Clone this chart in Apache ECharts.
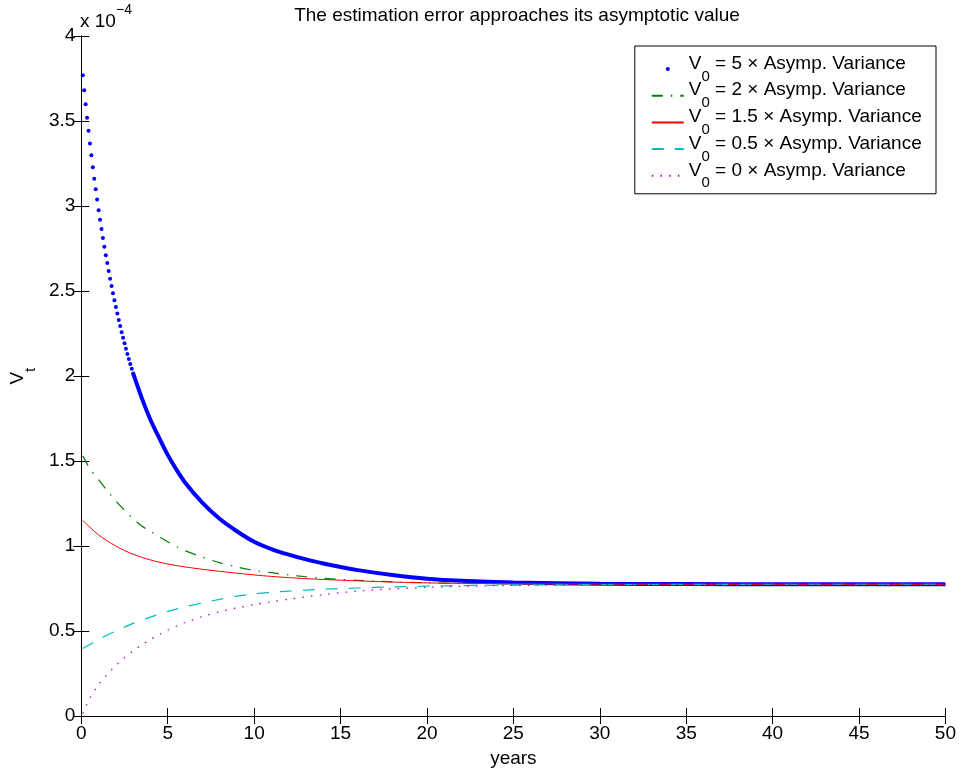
<!DOCTYPE html>
<html>
<head>
<meta charset="utf-8">
<script src="https://cdn.jsdelivr.net/npm/echarts@6/dist/echarts.min.js"></script>
<style>
  html, body { margin: 0; padding: 0; background: #fff; }
  #chart { width: 959px; height: 773px; }
</style>
</head>
<body>
<div id="chart"></div>
<script>
const FONT = '"Liberation Sans", Arial, Helvetica, sans-serif';
const FS = 19;

// Variance of the estimation error V_t, in units of 1e-4, against time in years.
const years = [0.083, 0.5, 1, 1.5, 2, 2.5, 3, 3.5, 4, 4.5, 5, 5.5, 6, 7, 8, 9, 10, 11, 12, 13, 14,
               16, 18, 20, 22, 25, 30, 35, 40, 45, 50];

// V_0 = 5 x asymptotic variance: one value per month over the first three years
const v5Monthly = [3.769, 3.681, 3.599, 3.519, 3.442, 3.368, 3.298, 3.228, 3.161, 3.099, 3.038, 2.975,
                   2.919, 2.864, 2.812, 2.761, 2.711, 2.664, 2.617, 2.572, 2.529, 2.487, 2.446, 2.406,
                   2.367, 2.329, 2.294, 2.258, 2.225, 2.192, 2.161, 2.130, 2.100, 2.071, 2.042, 2.015];
// ... and from year 3 onwards (years[6..])
const v5Later = [2.015, 1.87, 1.743, 1.637, 1.536, 1.45, 1.374, 1.255, 1.16, 1.087, 1.025, 0.982, 0.949,
                 0.921, 0.897, 0.858, 0.83, 0.808, 0.795, 0.785, 0.778, 0.776, 0.775, 0.775, 0.775];

const v2  = [1.53, 1.455, 1.39, 1.325, 1.265, 1.21, 1.16, 1.118, 1.085, 1.055, 1.025, 0.997, 0.972,
             0.935, 0.902, 0.877, 0.857, 0.843, 0.83, 0.819, 0.81, 0.798, 0.789, 0.783, 0.78, 0.777,
             0.775, 0.775, 0.775, 0.775, 0.775];
const v15 = [1.15, 1.11, 1.065, 1.03, 1.0, 0.973, 0.952, 0.933, 0.918, 0.905, 0.894, 0.885, 0.877,
             0.863, 0.851, 0.84, 0.83, 0.821, 0.814, 0.808, 0.803, 0.795, 0.788, 0.783, 0.78, 0.778,
             0.776, 0.775, 0.775, 0.775, 0.775];
const v05 = [0.397, 0.42, 0.449, 0.476, 0.5, 0.523, 0.545, 0.564, 0.582, 0.599, 0.615, 0.629, 0.642,
             0.665, 0.686, 0.705, 0.718, 0.727, 0.735, 0.741, 0.746, 0.753, 0.759, 0.764, 0.767, 0.77,
             0.773, 0.774, 0.775, 0.775, 0.775];
const v0  = [0.015, 0.105, 0.185, 0.245, 0.297, 0.343, 0.383, 0.418, 0.45, 0.478, 0.505, 0.528, 0.55,
             0.585, 0.613, 0.636, 0.655, 0.672, 0.687, 0.701, 0.714, 0.735, 0.748, 0.757, 0.763, 0.768,
             0.772, 0.774, 0.775, 0.775, 0.775];

const seriesNames = [
  'V_0 = 5 × Asymp. Variance',
  'V_0 = 2 × Asymp. Variance',
  'V_0 = 1.5 × Asymp. Variance',
  'V_0 = 0.5 × Asymp. Variance',
  'V_0 = 0 × Asymp. Variance'
];
const xTicks = { min: 0, max: 50, step: 5 };
const yTicks = { min: 0, max: 4, step: 0.5 };

const pairs = (xs, ys) => ys.map((y, i) => [xs[i], y]);
const monthlyPoints = v5Monthly.map((y, i) => [(i + 1) / 12, y]);
const laterPoints = pairs(years.slice(6), v5Later);

// main glyphs sit at the top of each text line, the subscript at its bottom
const subRich = {
  v: { fontFamily: FONT, fontSize: FS, lineHeight: 21, verticalAlign: 'top', color: '#000' },
  s: { fontFamily: FONT, fontSize: 15, lineHeight: 15, verticalAlign: 'bottom', color: '#000' },
  h: { fontFamily: FONT, fontSize: 1, lineHeight: 30 }
};
const richLabel = name => '{v|V}{s|0}{v|' + name.replace('V_0', '') + '}{h| }';

const axisCommon = {
  type: 'value',
  splitLine: { show: false },
  axisLine: { show: true, lineStyle: { color: '#000', width: 1 } },
  axisTick: { show: true, inside: true, length: 8, lineStyle: { color: '#000', width: 1 } }
};

const lineSeries = (name, data, lineStyle) => ({
  name, type: 'line', data, symbol: 'none', showSymbol: false, smooth: 0.3,
  lineStyle, itemStyle: { color: lineStyle.color }, z: 3
});

const chart = echarts.init(document.getElementById('chart'), null, { renderer: 'canvas' });
chart.setOption({
  animation: false,
  backgroundColor: '#fff',
  textStyle: { fontFamily: FONT },
  title: {
    text: 'The estimation error approaches its asymptotic value',
    left: 512, top: 1, textAlign: 'center',
    textStyle: { fontFamily: FONT, fontSize: FS, fontWeight: 'normal', color: '#000' }
  },
  grid: { left: 79, right: 13, top: 36, bottom: 53, containLabel: false },
  xAxis: [
    Object.assign({}, axisCommon, {
      position: 'bottom', min: xTicks.min, max: xTicks.max, interval: xTicks.step,
      name: 'years', nameLocation: 'middle', nameGap: 33,
      nameTextStyle: { fontFamily: FONT, fontSize: FS, color: '#000' },
      axisLabel: { fontFamily: FONT, fontSize: FS, color: '#000', margin: 8 }
    }),
    Object.assign({}, axisCommon, {
      position: 'top', min: xTicks.min, max: xTicks.max, interval: xTicks.step,
      axisLabel: { show: false }
    })
  ],
  yAxis: [
    Object.assign({}, axisCommon, {
      position: 'left', min: yTicks.min, max: yTicks.max, interval: yTicks.step,
      name: '{v|V}{s|t}{h| }', nameLocation: 'middle', nameGap: 41, nameRotate: 90,
      nameTextStyle: { rich: subRich },
      axisLabel: { fontFamily: FONT, fontSize: FS, color: '#000', margin: 6 }
    }),
    Object.assign({}, axisCommon, {
      position: 'right', min: yTicks.min, max: yTicks.max, interval: yTicks.step,
      axisLabel: { show: false }
    })
  ],
  legend: {
    orient: 'vertical',
    right: 23, top: 46,
    padding: [8, 14, 3, 16],
    itemGap: -3.3,
    itemWidth: 32, itemHeight: 4,
    backgroundColor: '#fff',
    borderColor: '#000', borderWidth: 1,
    formatter: richLabel,
    textStyle: { rich: subRich },
    data: [
      { name: seriesNames[0], icon: 'circle', itemStyle: { opacity: 1 } },
      { name: seriesNames[1], itemStyle: { opacity: 0 } },
      { name: seriesNames[2], itemStyle: { opacity: 0 } },
      { name: seriesNames[3], itemStyle: { opacity: 0 } },
      { name: seriesNames[4], itemStyle: { opacity: 0 } }
    ]
  },
  series: [
    {
      name: seriesNames[0], type: 'scatter', data: monthlyPoints,
      symbol: 'circle', symbolSize: 4, itemStyle: { color: '#0000ff', opacity: 1 }, z: 2
    },
    Object.assign(lineSeries(seriesNames[0], laterPoints, { color: '#0000ff', width: 4 }), { z: 2 }),
    lineSeries(seriesNames[1], pairs(years, v2), { color: '#008000', width: 1.2, type: [11, 8, 1.5, 8] }),
    lineSeries(seriesNames[2], pairs(years, v15), { color: '#ff0000', width: 1 }),
    lineSeries(seriesNames[3], pairs(years, v05), { color: '#00bfbf', width: 1.2, type: [12, 11] }),
    lineSeries(seriesNames[4], pairs(years, v0), { color: '#bf00bf', width: 1.3, type: [1.5, 7.2] })
  ],
  graphic: [
    {
      type: 'text', left: 80, top: 12,
      style: { text: 'x 10', fontFamily: FONT, fontSize: FS, fill: '#000' }
    },
    {
      type: 'text', left: 116, top: 3,
      style: { text: '−4', fontFamily: FONT, fontSize: 14, fill: '#000' }
    }
  ]
});
</script>
</body>
</html>
